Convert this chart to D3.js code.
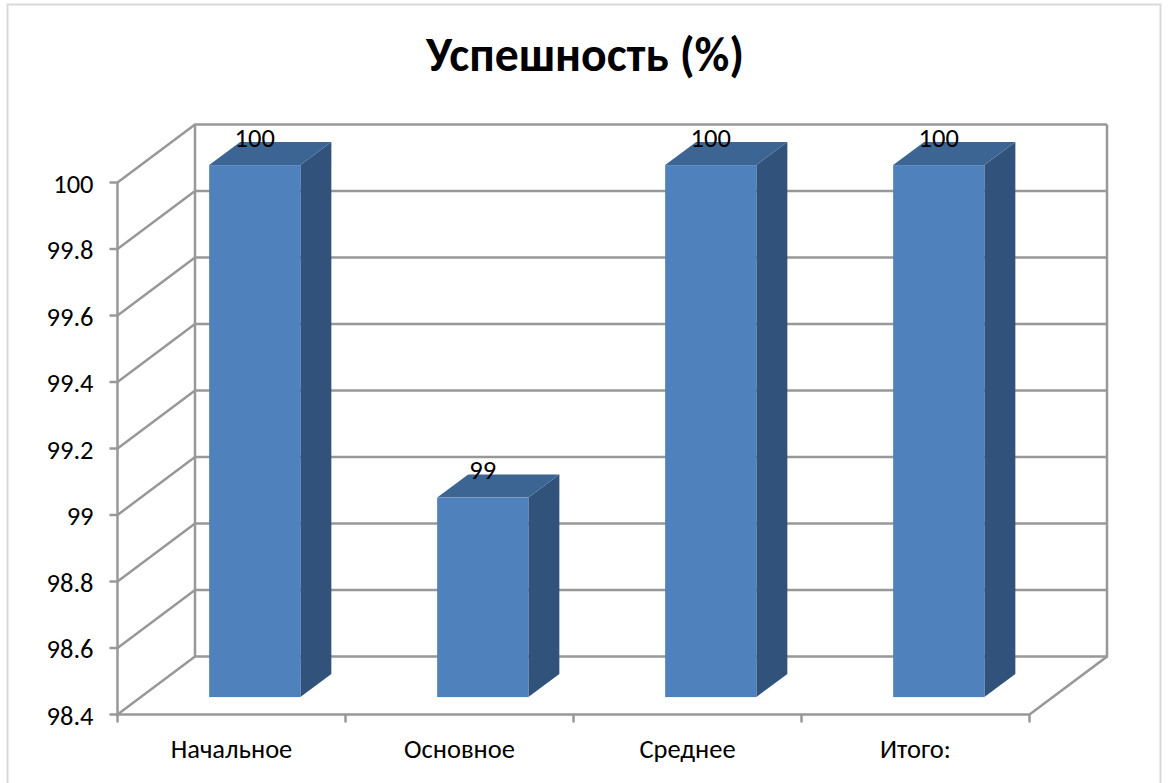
<!DOCTYPE html>
<html>
  <head>
    <meta charset="utf-8">
    <script src="https://cdn.jsdelivr.net/npm/d3@7"></script>
    <style>
      html, body { margin: 0; padding: 0; background: #fff; }
      svg { display: block; }
      text { font-family: Carlito, Lato, "Open Sans", "Noto Sans", sans-serif; fill: #000; }
    </style>
  </head>
  <body>
    <script>
// 3D-look column chart, the depth is faked with an oblique offset
var title = "Успешность (%)";
var categories = ["Начальное", "Основное", "Среднее", "Итого:"];
var values = [100, 99, 100, 100];
var tickValues = [98.4, 98.6, 98.8, 99, 99.2, 99.4, 99.6, 99.8, 100];

var width = 1168;
var height = 783;

// front plane of the plot
var left = 117.5, right = 1029.5, top_ = 182.5, bottom = 714.5;

// wall depth
var depthX = 77.5, depthY = -58;

// bar sits between these fractions of the depth
var barNear = 0.3, barFar = 0.7;

var gridColor = "#989898";
var barFront = "#4f81bd", barTop = "#3d6594", barSide = "#31537b";

var svg = d3.select("body").append("svg")
  .attr("width", width)
  .attr("height", height);

// chart border, open at the bottom
svg.append("path")
  .attr("d", d3.line()([[7.5, 790], [7.5, 4.5], [1160.5, 4.5], [1160.5, 790]]))
  .attr("fill", "none")
  .attr("stroke", "#d9d9d9")
  .attr("stroke-width", 2);

var y = d3.scaleLinear().domain([98.4, 100]).range([bottom, top_]);
var x = d3.scaleBand().domain(categories).range([left, right]);

var line = d3.line();

// Gridlines on the side wall and the back wall
var grid = svg.append("g")
  .attr("fill", "none")
  .attr("stroke", gridColor)
  .attr("stroke-width", 2.5);

tickValues.forEach(function (t) {
  grid.append("path").attr("d", line([
    [left, y(t)],
    [left + depthX, y(t) + depthY],
    [right + depthX, y(t) + depthY]
  ]));
});

// Wall edges
grid.append("path").attr("d", line([[left, y(100)], [left, bottom], [right, bottom], [right + depthX, bottom + depthY], [right + depthX, top_ + depthY]]));
grid.append("path").attr("d", line([[left + depthX, top_ + depthY], [left + depthX, bottom + depthY]]));

// Tick marks
var ticks = svg.append("g").attr("stroke", gridColor).attr("stroke-width", 2.5);
tickValues.forEach(function (t) {
  ticks.append("line").attr("x1", left - 8).attr("x2", left).attr("y1", y(t)).attr("y2", y(t));
});
x.domain().concat([null]).forEach(function (c) {
  var px = c === null ? right : x(c);
  ticks.append("line").attr("x1", px).attr("x2", px).attr("y1", bottom).attr("y2", bottom + 8);
});

// Bars
var barWidth = x.bandwidth() * 0.4;
var bars = svg.append("g").selectAll("g")
  .data(categories.map(function (c, i) { return { name: c, value: values[i] }; }))
  .join("g");

function barGeom(d) {
  var x0 = x(d.name) + (x.bandwidth() - barWidth) / 2 + depthX * barNear;
  var x1 = x0 + barWidth;
  var yTop = y(d.value) + depthY * barNear;
  var yBase = bottom + depthY * barNear;
  var dx = depthX * (barFar - barNear);
  var dy = depthY * (barFar - barNear);
  return { x0: x0, x1: x1, yTop: yTop, yBase: yBase, dx: dx, dy: dy };
}

bars.append("path")
  .attr("fill", barSide)
  .attr("d", function (d) {
    var g = barGeom(d);
    return line([[g.x1, g.yTop], [g.x1 + g.dx, g.yTop + g.dy], [g.x1 + g.dx, g.yBase + g.dy], [g.x1, g.yBase]]) + "Z";
  });

bars.append("path")
  .attr("fill", barTop)
  .attr("d", function (d) {
    var g = barGeom(d);
    return line([[g.x0, g.yTop], [g.x0 + g.dx, g.yTop + g.dy], [g.x1 + g.dx, g.yTop + g.dy], [g.x1, g.yTop]]) + "Z";
  });

bars.append("rect")
  .attr("fill", barFront)
  .attr("x", function (d) { return barGeom(d).x0; })
  .attr("y", function (d) { return barGeom(d).yTop; })
  .attr("width", barWidth)
  .attr("height", function (d) { var g = barGeom(d); return g.yBase - g.yTop; });

// Value labels
bars.append("text")
  .attr("text-anchor", "middle")
  .attr("font-size", 26.5)
  .attr("x", function (d) { return x(d.name) + x.bandwidth() / 2 + depthX * barNear; })
  .attr("y", function (d) { return barGeom(d).yTop - 18.5; })
  .text(function (d) { return d.value; });

// Axis labels
svg.append("g").selectAll("text")
  .data(tickValues)
  .join("text")
  .attr("text-anchor", "end")
  .attr("font-size", 26.5)
  .attr("x", left - 24)
  .attr("y", function (d) { return y(d) + 10; })
  .text(function (d) { return d; });

svg.append("g").selectAll("text")
  .data(categories)
  .join("text")
  .attr("text-anchor", "middle")
  .attr("font-size", 26.5)
  .attr("x", function (d) { return x(d) + x.bandwidth() / 2; })
  .attr("y", 758)
  .text(function (d) { return d; });

// Title
svg.append("text")
  .attr("text-anchor", "middle")
  .attr("font-size", 47.7)
  .attr("font-weight", "bold")
  .attr("x", 585)
  .attr("y", 71)
  .text(title);
</script>
  </body>
</html>
